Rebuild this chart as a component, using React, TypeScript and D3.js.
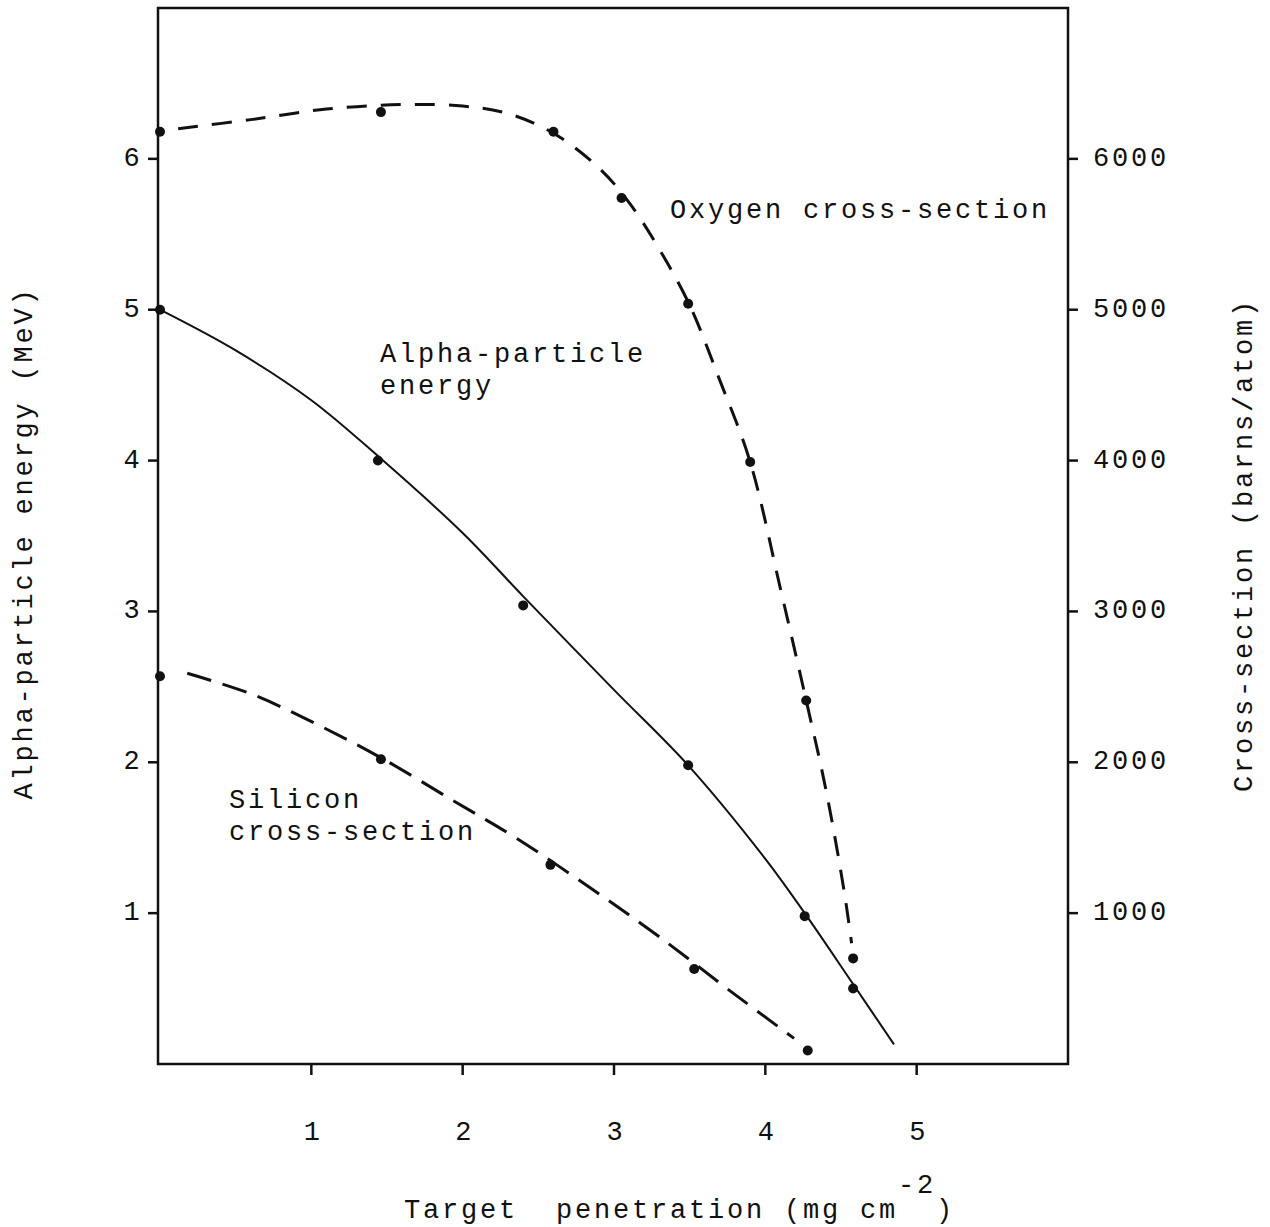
import React from "react";
import * as d3 from "d3";

// ---- data ----
const xTicks = [1, 2, 3, 4, 5];
const energyTicks = [1, 2, 3, 4, 5, 6];
const crossTicks = [1000, 2000, 3000, 4000, 5000, 6000];

// measured points (x = target penetration, mg cm^-2)
const oxygenX = [0, 1.46, 2.6, 3.05, 3.49, 3.9, 4.27, 4.58];
const oxygenY = [6180, 6310, 6180, 5740, 5040, 3990, 2410, 700];
const energyX = [0, 1.44, 2.4, 3.49, 4.26, 4.58];
const energyY = [5.0, 4.0, 3.04, 1.98, 0.98, 0.5];
const siliconX = [0, 1.46, 2.58, 3.53, 4.28];
const siliconY = [2570, 2020, 1320, 630, 90];

// hand-drawn fitted curves
const oxygenCurveX = [0.12, 0.6, 1.1, 1.6, 2.0, 2.3, 2.6, 2.9, 3.1, 3.3, 3.5, 3.7, 3.9, 4.1, 4.27, 4.4, 4.52, 4.57];
const oxygenCurveY = [6200, 6260, 6330, 6360, 6350, 6300, 6170, 5940, 5710, 5400, 5030, 4530, 3990, 3150, 2410, 1820, 1150, 800];
const energyCurveX = [0, 0.5, 1.0, 1.44, 2.0, 2.4, 3.0, 3.49, 4.0, 4.26, 4.58, 4.85];
const energyCurveY = [5.0, 4.73, 4.4, 4.03, 3.52, 3.1, 2.48, 1.98, 1.36, 1.0, 0.53, 0.13];
const siliconCurveX = [0.18, 0.61, 1.02, 1.46, 1.93, 2.35, 2.84, 3.29, 3.8, 4.19];
const siliconCurveY = [2590, 2450, 2260, 2030, 1750, 1500, 1170, 850, 460, 170];

const FONT = "'Liberation Mono', 'DejaVu Sans Mono', monospace";

export default function App() {
  const frameLeft = 158, right = 1068, top = 8, bottom = 1064;
  const x = d3.scaleLinear().domain([0, 6]).range([160, right]);
  const yE = d3.scaleLinear().domain([0, 7]).range([bottom, top]);
  const yC = d3.scaleLinear().domain([0, 7000]).range([bottom, top]);

  const lineC = d3
    .line<[number, number]>()
    .x((d) => x(d[0]))
    .y((d) => yC(d[1]))
    .curve(d3.curveCatmullRom.alpha(0.5));
  const lineE = d3
    .line<[number, number]>()
    .x((d) => x(d[0]))
    .y((d) => yE(d[1]))
    .curve(d3.curveCatmullRom.alpha(0.5));

  const zip = (a: number[], b: number[]) => a.map((v, i) => [v, b[i]] as [number, number]);

  const textStyle: React.CSSProperties = {
    fontFamily: FONT,
    fontSize: 27,
    letterSpacing: 2.8,
    fill: "#111",
    whiteSpace: "pre",
  };

  return (
    <svg width={1270} height={1227} style={{ position: "absolute", left: 0, top: 0, background: "#fff" }}>
      <rect x={0} y={0} width={1270} height={1227} fill="#fff" />
      {/* frame */}
      <rect x={frameLeft} y={top} width={right - frameLeft} height={bottom - top} fill="none" stroke="#111" strokeWidth={2.5} />

      {/* left ticks */}
      {energyTicks.map((t) => (
        <g key={"l" + t}>
          <line x1={frameLeft - 10} x2={frameLeft} y1={yE(t)} y2={yE(t)} stroke="#111" strokeWidth={2.5} />
          <text x={133} y={yE(t)} dominantBaseline="central" textAnchor="middle" style={textStyle}>
            {t}
          </text>
        </g>
      ))}
      {/* right ticks */}
      {crossTicks.map((t) => (
        <g key={"r" + t}>
          <line x1={right} x2={right + 10} y1={yC(t)} y2={yC(t)} stroke="#111" strokeWidth={2.5} />
          <text x={1093} y={yC(t)} dominantBaseline="central" style={textStyle}>
            {t}
          </text>
        </g>
      ))}
      {/* bottom ticks */}
      {xTicks.map((t) => (
        <g key={"b" + t}>
          <line x1={x(t)} x2={x(t)} y1={bottom} y2={bottom + 11} stroke="#111" strokeWidth={2.5} />
          <text x={x(t) + 2} y={1133} dominantBaseline="central" textAnchor="middle" style={textStyle}>
            {t}
          </text>
        </g>
      ))}

      {/* curves */}
      <path d={lineC(zip(oxygenCurveX, oxygenCurveY)) || ""} fill="none" stroke="#111" strokeWidth={3} strokeDasharray="20 14" />
      <path d={lineE(zip(energyCurveX, energyCurveY)) || ""} fill="none" stroke="#111" strokeWidth={2} />
      <path d={lineC(zip(siliconCurveX, siliconCurveY)) || ""} fill="none" stroke="#111" strokeWidth={3} strokeDasharray="25 12" />

      {/* points */}
      {oxygenX.map((v, i) => (
        <circle key={"o" + i} cx={x(v)} cy={yC(oxygenY[i])} r={5} fill="#111" />
      ))}
      {energyX.map((v, i) => (
        <circle key={"e" + i} cx={x(v)} cy={yE(energyY[i])} r={5} fill="#111" />
      ))}
      {siliconX.map((v, i) => (
        <circle key={"s" + i} cx={x(v)} cy={yC(siliconY[i])} r={5} fill="#111" />
      ))}

      {/* in-plot labels */}
      <text x={670} y={218} style={textStyle}>Oxygen cross-section</text>
      <text x={380} y={362} style={textStyle}>Alpha-particle</text>
      <text x={380} y={394} style={textStyle}>energy</text>
      <text x={229} y={808} style={textStyle}>Silicon</text>
      <text x={229} y={840} style={textStyle}>cross-section</text>

      {/* axis titles */}
      <text x={404} y={1218} style={textStyle}>
        {"Target  penetration (mg cm"}
        <tspan dy={-25}>-2</tspan>
        <tspan dy={25}>)</tspan>
      </text>
      <text
        transform={`translate(25,543) rotate(-90)`}
        textAnchor="middle"
        dominantBaseline="central"
        style={textStyle}
      >
        Alpha-particle energy (MeV)
      </text>
      <text
        transform={`translate(1245,545) rotate(-90)`}
        textAnchor="middle"
        dominantBaseline="central"
        style={textStyle}
      >
        Cross-section (barns/atom)
      </text>
    </svg>
  );
}
